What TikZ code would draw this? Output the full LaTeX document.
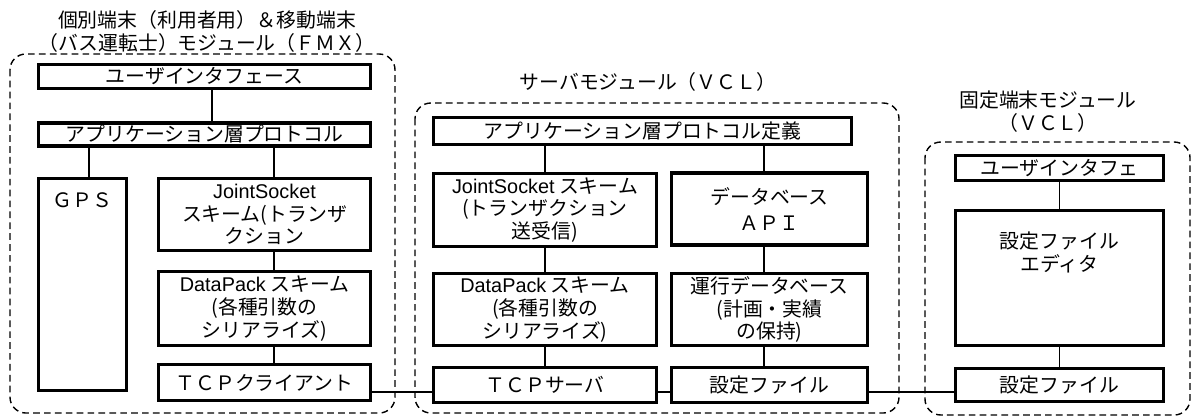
\documentclass[tikz,border=0pt]{standalone}
\usepackage{fontspec}
\setmainfont{Noto Sans CJK JP}
\newfontfamily\latinsans{Liberation Sans}
\newcommand\jpf{\fontsize{11.3}{13}\selectfont}
\tikzset{
  box/.style={draw, line width=1.8pt, inner sep=0pt, align=center, font=\jpf},
  link/.style={line width=0.75pt},
  modframe/.style={draw, dash pattern=on 3.8pt off 2.4pt, line width=0.8pt, rounded corners=9pt},
  title/.style={align=center, font=\jpf},
}
\begin{document}
\begin{tikzpicture}[x=0.02cm,y=-0.02cm]
\useasboundingbox (0,0) rectangle (1192,417);
% module frames
\draw[modframe] (10,54) rectangle (395,413);
\draw[modframe] (415,103) rectangle (899,413);
\draw[modframe] (925,142) rectangle (1190,415);
% titles
\node[title] (t1) at (207,31.5) {個別端末（利用者用）＆移動端末\\（バス運転士）モジュール（ＦＭＸ）};
\node[title] (t2) at (648,82) {サーバモジュール（ＶＣＬ）};
\node[title] (t3) at (1048,111.5) {固定端末モジュール\\（ＶＣＬ）};
% left module
\node[box, minimum width=6.64cm, minimum height=0.48cm] (ui1) at (204.5,76.5) {ユーザインタフェース};
\node[box, minimum width=6.64cm, minimum height=0.46cm] (app1) at (204.5,134.5) {アプリケーション層プロトコル};
\node[box, minimum width=1.76cm, minimum height=4.24cm, label={[font=\jpf, anchor=north, yshift=-0.19cm]north:ＧＰＳ}] (gps) at (82.5,284.5) {};
\node[box, minimum width=4.24cm, minimum height=1.44cm] (js1) at (264.5,214.5) {{\latinsans JointSocket}\\スキーム(トランザ\\クション};
\node[box, minimum width=4.24cm, minimum height=1.48cm] (dp1) at (264.5,308.5) {{\latinsans DataPack} スキーム\\(各種引数の\\シリアライズ)};
\node[box, minimum width=4.24cm, minimum height=0.72cm] (tcpc) at (264.5,382.5) {ＴＣＰクライアント};
% server module
\node[box, minimum width=8.36cm, minimum height=0.54cm] (app2) at (642.5,131) {アプリケーション層プロトコル定義};
\node[box, minimum width=4.46cm, minimum height=1.46cm] (js2) at (545,210) {{\latinsans JointSocket} スキーム\\(トランザクション\\送受信)};
\node[box, minimum width=3.92cm, minimum height=1.44cm] (db2) at (769.5,209) {データベース\\[2pt]ＡＰＩ};
\node[box, minimum width=4.46cm, minimum height=1.44cm] (dp2) at (545,309.5) {{\latinsans DataPack} スキーム\\(各種引数の\\シリアライズ)};
\node[box, minimum width=3.92cm, minimum height=1.44cm] (rdb) at (769.5,309.5) {運行データベース\\(計画・実績\\の保持)};
\node[box, minimum width=4.46cm, minimum height=0.7cm] (tcps) at (545,385) {ＴＣＰサーバ};
\node[box, minimum width=3.92cm, minimum height=0.7cm] (cfg2) at (769.5,385) {設定ファイル};
% fixed terminal module
\node[box, minimum width=4.16cm, minimum height=0.5cm] (ui3) at (1059.5,168) {ユーザインタフェ};
\node[box, minimum width=4.16cm, minimum height=2.7cm, label={[font=\jpf, align=center, anchor=north, yshift=-0.33cm]north:設定ファイル\\エディタ}] (ed3) at (1059.5,278) {};
\node[box, minimum width=4.16cm, minimum height=0.66cm] (cfg3) at (1059.5,385) {設定ファイル};
% connectors left
\draw[link] ([xshift=0.15cm]ui1.south) -- ([xshift=0.15cm]app1.north);
\draw[link] ([xshift=0.13cm]gps.north) -- ([xshift=0.13cm]gps.north |- app1.south);
\draw[link] ([xshift=0.19cm]js1.north) -- ([xshift=0.19cm]js1.north |- app1.south);
\draw[link] ([xshift=0.19cm]js1.south) -- ([xshift=0.19cm]dp1.north);
\draw[link] ([xshift=0.19cm]dp1.south) -- ([xshift=0.19cm]tcpc.north);
% connectors server
\draw[link] (js2.north) -- (js2.north |- app2.south);
\draw[link] ([xshift=-0.11cm]db2.north) -- ([xshift=-0.11cm]db2.north |- app2.south);
\draw[link] (js2.south) -- (dp2.north);
\draw[link] (dp2.south) -- (tcps.north);
\draw[link] ([xshift=-0.11cm]db2.south) -- ([xshift=-0.11cm]rdb.north);
\draw[link] ([xshift=-0.11cm]rdb.south) -- ([xshift=-0.11cm]cfg2.north);
% connectors fixed
\draw[link] (ui3.south) -- (ed3.north);
\draw[link] (ed3.south) -- (cfg3.north);
% horizontal links
\draw[link] ([yshift=-0.19cm]tcpc.east) -- ([yshift=-0.19cm]tcpc.east -| tcps.west);
\draw[link] ([yshift=-0.14cm]tcps.east) -- ([yshift=-0.14cm]tcps.east -| cfg2.west);
\draw[link] ([yshift=-0.14cm]cfg2.east) -- ([yshift=-0.14cm]cfg2.east -| cfg3.west);
\end{tikzpicture}
\end{document}
